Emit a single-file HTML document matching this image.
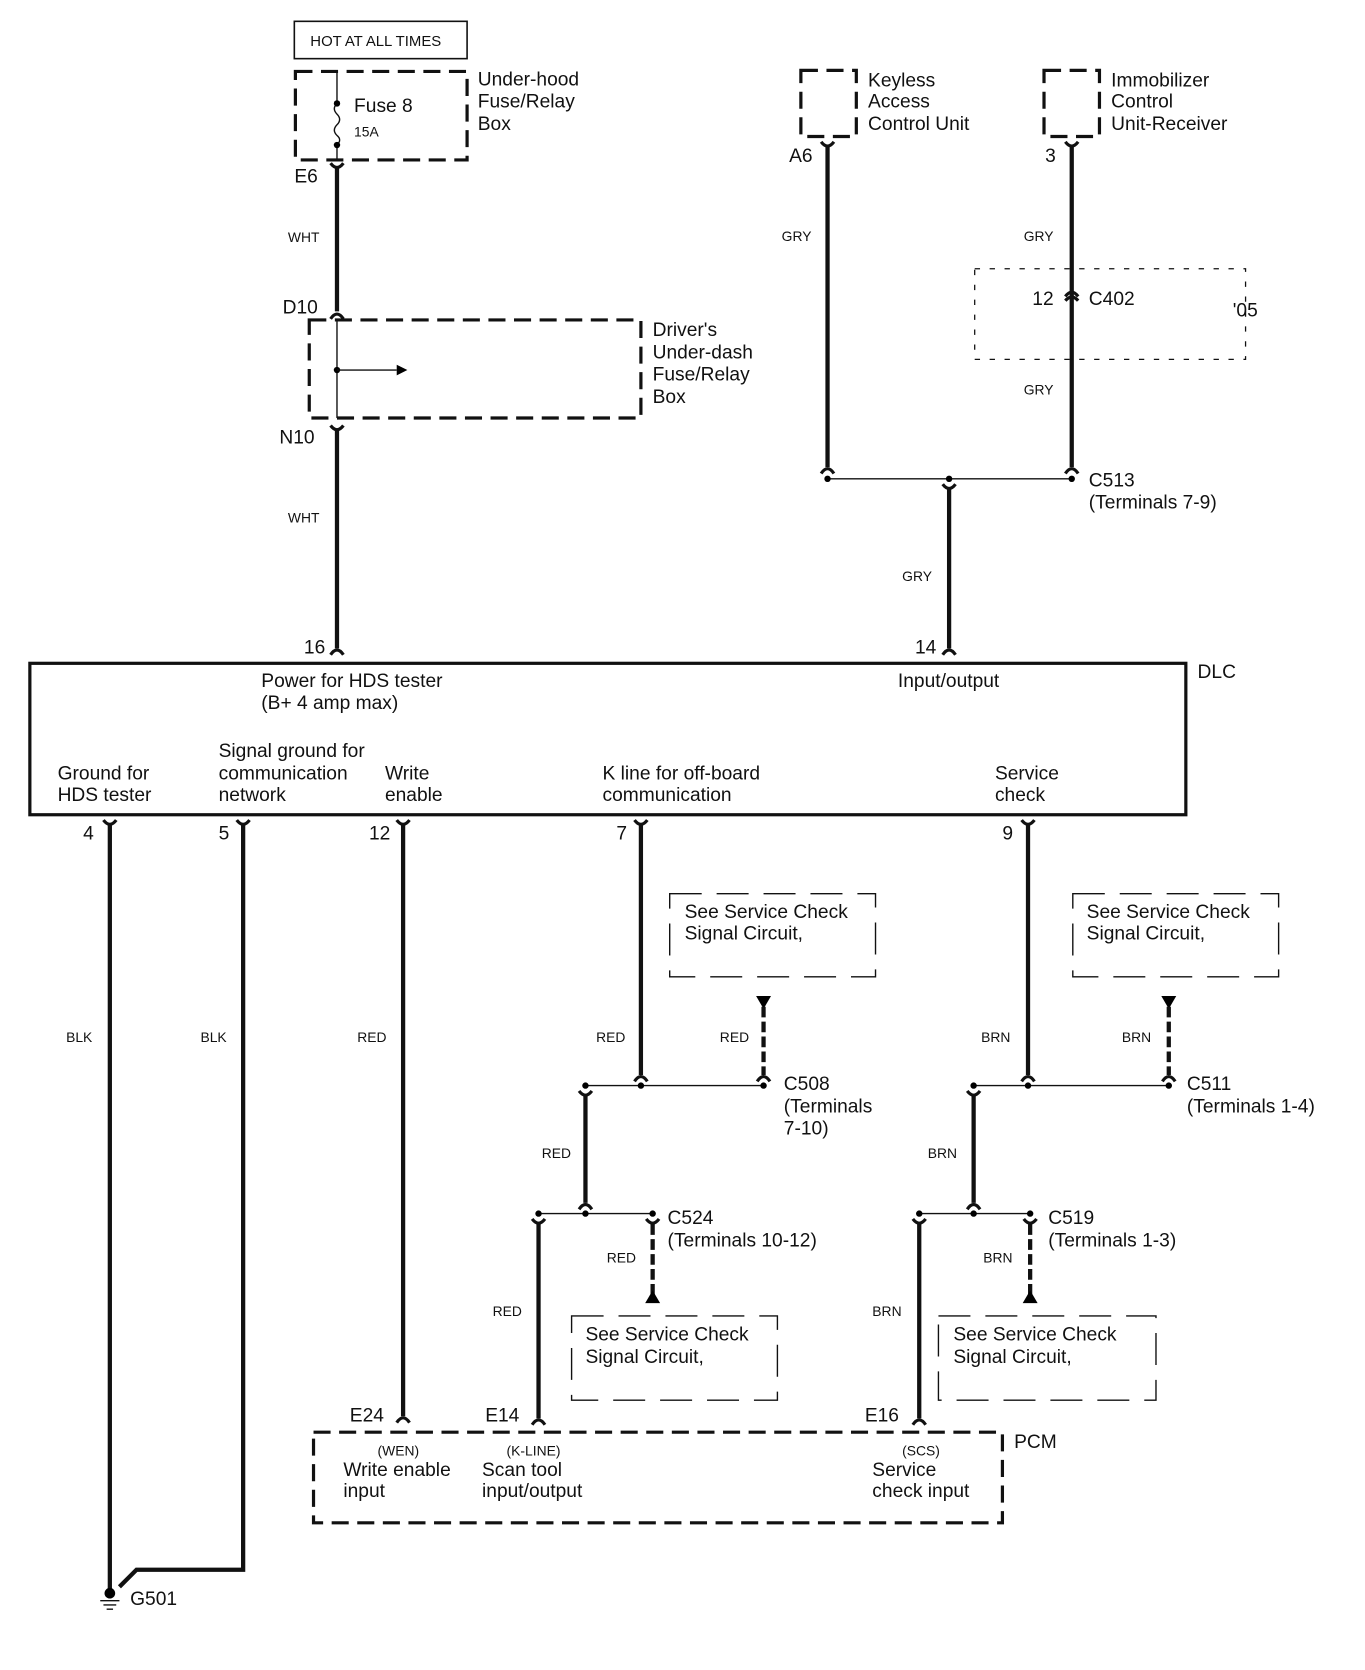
<!DOCTYPE html>
<html><head><meta charset="utf-8"><style>
html,body{margin:0;padding:0;background:#fff}
svg{display:block}
text{font-family:"Liberation Sans",sans-serif;fill:#111}
.l{font-size:18px}.s{font-size:13px}
.w{stroke:#111;stroke-width:4;fill:none}
.t{stroke:#111;stroke-width:1.3;fill:none}
.c{stroke:#111;stroke-width:3;fill:none}
.d{stroke:#111;stroke-width:3;fill:none;stroke-dasharray:16 8}
.dl{stroke:#111;stroke-width:1.3;fill:none;stroke-dasharray:30 14}
.dt{stroke:#111;stroke-width:1.2;fill:none;stroke-dasharray:5 9}
</style></head><body>
<svg width="1365" height="1670" viewBox="0 0 1280 1566" preserveAspectRatio="none" xmlns="http://www.w3.org/2000/svg">
<!-- top left -->
<rect x="276" y="20" width="162" height="35" fill="none" stroke="#111" stroke-width="1.5"/>
<text x="291" y="43" style="font-size:14px">HOT AT ALL TIMES</text>
<rect x="277" y="67" width="161" height="83" class="d"/>
<path class="t" d="M316 67 V97 q-5 5 0 10 q5 5 0 10 q-5 5 0 10 q5 4 0 9 V150"/>
<circle cx="316" cy="97" r="3"/><circle cx="316" cy="136" r="3"/>
<text x="332" y="105" class="l">Fuse 8</text><text x="332" y="128" class="s">15A</text>
<text x="448" y="80" class="l">Under-hood</text><text x="448" y="101" class="l">Fuse/Relay</text><text x="448" y="122" class="l">Box</text>
<text x="276" y="171" class="l">E6</text>
<path class="c" d="M310 153 Q316 161 322 153"/>
<line class="w" x1="316" y1="158" x2="316" y2="292"/>
<text x="270" y="227" class="s">WHT</text>
<text x="265" y="294" class="l">D10</text>
<path class="c" d="M310 299 Q316 290 322 299"/>
<rect x="290" y="300" width="311" height="92" class="d"/>
<line class="t" x1="316" y1="300" x2="316" y2="392"/>
<circle cx="316" cy="347" r="3"/><line class="t" x1="316" y1="347" x2="372" y2="347"/>
<path d="M372 342 L382 347 L372 352Z"/>
<text x="612" y="315" class="l">Driver's</text><text x="612" y="336" class="l">Under-dash</text><text x="612" y="357" class="l">Fuse/Relay</text><text x="612" y="378" class="l">Box</text>
<text x="262" y="416" class="l">N10</text>
<path class="c" d="M310 399 Q316 407 322 399"/>
<line class="w" x1="316" y1="404" x2="316" y2="608"/>
<text x="270" y="490" class="s">WHT</text>
<text x="285" y="613" class="l">16</text>
<path class="c" d="M310 614 Q316 605 322 614"/>
<!-- top right -->
<rect x="751" y="66" width="52" height="62" class="d"/>
<text x="814" y="81" class="l">Keyless</text><text x="814" y="101" class="l">Access</text><text x="814" y="122" class="l">Control Unit</text>
<rect x="979" y="66" width="52" height="62" class="d"/>
<text x="1042" y="81" class="l">Immobilizer</text><text x="1042" y="101" class="l">Control</text><text x="1042" y="122" class="l">Unit-Receiver</text>
<text x="740" y="152" class="l">A6</text><text x="980" y="152" class="l">3</text>
<path class="c" d="M770 133 Q776 141 782 133"/><path class="c" d="M999 133 Q1005 141 1011 133"/>
<line class="w" x1="776" y1="138" x2="776" y2="438"/>
<line class="w" x1="1005" y1="138" x2="1005" y2="438"/>
<text x="733" y="226" class="s">GRY</text><text x="960" y="226" class="s">GRY</text>
<rect x="914" y="252" width="254" height="85" class="dt"/>
<text x="968" y="286" class="l">12</text><text x="1021" y="286" class="l">C402</text><text x="1156" y="297" class="l">'05</text>
<path class="c" d="M999 278 Q1005 270 1011 278"/><path class="c" d="M999 282 Q1005 275 1011 282"/>
<text x="960" y="370" class="s">GRY</text>
<path class="c" d="M770 444 Q776 435 782 444"/><path class="c" d="M999 444 Q1005 435 1011 444"/>
<line class="t" x1="776" y1="449" x2="1005" y2="449"/>
<circle cx="776" cy="449" r="3"/><circle cx="890" cy="449" r="3"/><circle cx="1005" cy="449" r="3"/>
<path class="c" d="M884 454 Q890 462 896 454"/>
<line class="w" x1="890" y1="459" x2="890" y2="608"/>
<text x="1021" y="456" class="l">C513</text><text x="1021" y="477" class="l">(Terminals 7-9)</text>
<text x="846" y="545" class="s">GRY</text>
<text x="858" y="613" class="l">14</text>
<path class="c" d="M884 614 Q890 605 896 614"/>
<!-- DLC -->
<rect x="28" y="622" width="1084" height="142" fill="none" stroke="#111" stroke-width="3"/>
<text x="1123" y="636" class="l">DLC</text>
<text x="245" y="644" class="l">Power for HDS tester</text><text x="245" y="665" class="l">(B+ 4 amp max)</text>
<text x="842" y="644" class="l">Input/output</text>
<text x="54" y="731" class="l">Ground for</text><text x="54" y="751" class="l">HDS tester</text>
<text x="205" y="710" class="l">Signal ground for</text><text x="205" y="731" class="l">communication</text><text x="205" y="751" class="l">network</text>
<text x="361" y="731" class="l">Write</text><text x="361" y="751" class="l">enable</text>
<text x="565" y="731" class="l">K line for off-board</text><text x="565" y="751" class="l">communication</text>
<text x="933" y="731" class="l">Service</text><text x="933" y="751" class="l">check</text>
<!-- pins -->
<text x="78" y="787" class="l">4</text><text x="205" y="787" class="l">5</text><text x="346" y="787" class="l">12</text><text x="578" y="787" class="l">7</text><text x="940" y="787" class="l">9</text>
<path class="c" d="M97 769 Q103 777 109 769 M222 769 Q228 777 234 769 M372 769 Q378 777 384 769 M595 769 Q601 777 607 769 M958 769 Q964 777 970 769"/>
<path class="w" d="M103 774 V1490"/>
<path class="w" d="M228 774 V1472 H128 L112 1488"/>
<circle cx="103" cy="1494" r="5"/>
<path class="t" d="M94 1501 H112 M97 1505 H109 M100 1509 H106"/>
<text x="122" y="1505" class="l">G501</text>
<text x="62" y="977" class="s">BLK</text><text x="188" y="977" class="s">BLK</text>
<line class="w" x1="378" y1="774" x2="378" y2="1328"/>
<text x="335" y="977" class="s">RED</text>
<text x="328" y="1333" class="l">E24</text>
<path class="c" d="M372 1334 Q378 1325 384 1334"/>
<!-- K line -->
<line class="w" x1="601" y1="774" x2="601" y2="1008"/>
<text x="559" y="977" class="s">RED</text>
<path class="c" d="M595 1014 Q601 1005 607 1014"/>
<rect x="628" y="838" width="193" height="78" class="dl"/>
<text x="642" y="861" class="l">See Service Check</text><text x="642" y="881" class="l">Signal Circuit,</text>
<path d="M709 934 L723 934 L716 946Z"/>
<line class="d" x1="716" y1="944" x2="716" y2="1008" style="stroke-width:4;stroke-dasharray:10 4"/>
<path class="c" d="M710 1014 Q716 1005 722 1014"/>
<text x="675" y="977" class="s">RED</text>
<line class="t" x1="549" y1="1018" x2="718" y2="1018"/>
<circle cx="549" cy="1018" r="3"/><circle cx="601" cy="1018" r="3"/><circle cx="716" cy="1018" r="3"/>
<text x="735" y="1022" class="l">C508</text><text x="735" y="1043" class="l">(Terminals</text><text x="735" y="1064" class="l">7-10)</text>
<path class="c" d="M543 1023 Q549 1031 555 1023"/>
<line class="w" x1="549" y1="1028" x2="549" y2="1128"/>
<text x="508" y="1086" class="s">RED</text>
<path class="c" d="M543 1134 Q549 1125 555 1134"/>
<line class="t" x1="505" y1="1138" x2="612" y2="1138"/>
<circle cx="505" cy="1138" r="3"/><circle cx="549" cy="1138" r="3"/><circle cx="612" cy="1138" r="3"/>
<text x="626" y="1148" class="l">C524</text><text x="626" y="1169" class="l">(Terminals 10-12)</text>
<path class="c" d="M499 1143 Q505 1151 511 1143 M606 1143 Q612 1151 618 1143"/>
<line class="w" x1="505" y1="1148" x2="505" y2="1330"/>
<text x="462" y="1234" class="s">RED</text>
<line class="d" x1="612" y1="1148" x2="612" y2="1214" style="stroke-width:4;stroke-dasharray:10 4"/>
<path d="M605 1222 L619 1222 L612 1210Z"/>
<text x="569" y="1184" class="s">RED</text>
<rect x="536" y="1234" width="193" height="79" class="dl"/>
<text x="549" y="1257" class="l">See Service Check</text><text x="549" y="1278" class="l">Signal Circuit,</text>
<text x="455" y="1333" class="l">E14</text>
<path class="c" d="M499 1336 Q505 1327 511 1336"/>
<!-- service check -->
<line class="w" x1="964" y1="774" x2="964" y2="1008"/>
<text x="920" y="977" class="s">BRN</text>
<path class="c" d="M958 1014 Q964 1005 970 1014"/>
<rect x="1006" y="838" width="193" height="78" class="dl"/>
<text x="1019" y="861" class="l">See Service Check</text><text x="1019" y="881" class="l">Signal Circuit,</text>
<path d="M1089 934 L1103 934 L1096 946Z"/>
<line class="d" x1="1096" y1="944" x2="1096" y2="1008" style="stroke-width:4;stroke-dasharray:10 4"/>
<path class="c" d="M1090 1014 Q1096 1005 1102 1014"/>
<text x="1052" y="977" class="s">BRN</text>
<line class="t" x1="913" y1="1018" x2="1096" y2="1018"/>
<circle cx="913" cy="1018" r="3"/><circle cx="964" cy="1018" r="3"/><circle cx="1096" cy="1018" r="3"/>
<text x="1113" y="1022" class="l">C511</text><text x="1113" y="1043" class="l">(Terminals 1-4)</text>
<path class="c" d="M907 1023 Q913 1031 919 1023"/>
<line class="w" x1="913" y1="1028" x2="913" y2="1128"/>
<text x="870" y="1086" class="s">BRN</text>
<path class="c" d="M907 1134 Q913 1125 919 1134"/>
<line class="t" x1="862" y1="1138" x2="966" y2="1138"/>
<circle cx="862" cy="1138" r="3"/><circle cx="913" cy="1138" r="3"/><circle cx="966" cy="1138" r="3"/>
<text x="983" y="1148" class="l">C519</text><text x="983" y="1169" class="l">(Terminals 1-3)</text>
<path class="c" d="M856 1143 Q862 1151 868 1143 M960 1143 Q966 1151 972 1143"/>
<line class="w" x1="862" y1="1148" x2="862" y2="1330"/>
<text x="818" y="1234" class="s">BRN</text>
<line class="d" x1="966" y1="1148" x2="966" y2="1214" style="stroke-width:4;stroke-dasharray:10 4"/>
<path d="M959 1222 L973 1222 L966 1210Z"/>
<text x="922" y="1184" class="s">BRN</text>
<rect x="880" y="1234" width="204" height="79" class="dl"/>
<text x="894" y="1257" class="l">See Service Check</text><text x="894" y="1278" class="l">Signal Circuit,</text>
<text x="811" y="1333" class="l">E16</text>
<path class="c" d="M856 1336 Q862 1327 868 1336"/>
<!-- PCM -->
<rect x="294" y="1343" width="646" height="85" class="d"/>
<text x="951" y="1358" class="l">PCM</text>
<text x="354" y="1365" class="s">(WEN)</text><text x="322" y="1384" class="l">Write enable</text><text x="322" y="1404" class="l">input</text>
<text x="475" y="1365" class="s">(K-LINE)</text><text x="452" y="1384" class="l">Scan tool</text><text x="452" y="1404" class="l">input/output</text>
<text x="846" y="1365" class="s">(SCS)</text><text x="818" y="1384" class="l">Service</text><text x="818" y="1404" class="l">check input</text>
</svg>
</body></html>
